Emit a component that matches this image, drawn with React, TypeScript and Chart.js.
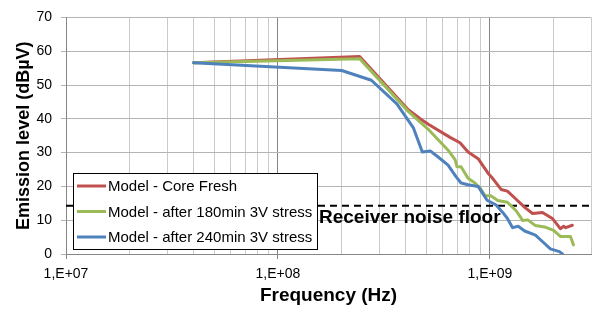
import React, { useEffect, useRef } from 'react';
import { Chart, registerables } from 'chart.js';

Chart.register(...registerables);

const FONT = "'Liberation Sans', Arial, sans-serif";

const seriesNames = [
  'Model - Core Fresh',
  'Model - after 180min 3V stress',
  'Model - after 240min 3V stress',
];
const seriesColors = ['#C0504D', '#9BBB59', '#4F81BD'];

const freshFreq = [4.0e7, 2.43e8, 4.12e8, 4.74e8, 5.12e8, 6.49e8, 7.23e8, 7.89e8, 8.8e8, 9.8e8, 1.03e9, 1.13e9, 1.21e9, 1.33e9, 1.46e9, 1.59e9, 1.77e9, 1.98e9, 2.15e9, 2.23e9, 2.28e9, 2.45e9];
const freshLevel = [56.6, 58.4, 42.7, 39.8, 38.4, 34.5, 32.9, 30.2, 28.2, 23.9, 22.4, 19.1, 18.6, 16.2, 13.8, 12.0, 12.3, 10.4, 7.5, 8.2, 7.8, 8.5];

const stress180Freq = [4.0e7, 2.43e8, 4.12e8, 5.12e8, 6.35e8, 6.85e8, 7.0e8, 7.31e8, 7.89e8, 8.5e8, 8.98e8, 9.5e8, 1.01e9, 1.09e9, 1.21e9, 1.33e9, 1.43e9, 1.51e9, 1.64e9, 1.81e9, 2.0e9, 2.15e9, 2.4e9, 2.48e9];
const stress180Level = [56.6, 57.8, 42.2, 36.9, 30.7, 27.9, 25.8, 25.8, 22.4, 21.0, 19.6, 17.2, 17.2, 15.8, 15.3, 12.8, 9.9, 10.1, 8.4, 8.0, 7.0, 5.2, 5.2, 2.7];

const stress240Freq = [4.0e7, 2.0e8, 2.76e8, 3.64e8, 4.35e8, 4.8e8, 5.23e8, 5.7e8, 6.35e8, 6.92e8, 7.31e8, 7.89e8, 8.8e8, 9.7e8, 1.07e9, 1.15e9, 1.21e9, 1.28e9, 1.36e9, 1.46e9, 1.64e9, 1.79e9, 1.93e9, 2.13e9, 2.2e9];
const stress240Level = [56.6, 54.3, 51.4, 44.4, 37.4, 30.2, 30.5, 28.7, 26.3, 22.9, 21.0, 20.5, 20.0, 15.9, 14.5, 12.3, 10.5, 7.8, 8.2, 6.8, 5.6, 3.4, 1.5, 0.7, 0];

const noiseFloorLevel = 14.3;
const noiseFloorLabel = 'Receiver noise floor';

const xMin = 1e7;
const xMax = 3e9;
const xMajorTicks = [1e7, 1e8, 1e9];
const xMajorLabels = ['1,E+07', '1,E+08', '1,E+09'];
const xMinorTicks = [2e7, 3e7, 4e7, 5e7, 6e7, 7e7, 8e7, 9e7, 2e8, 3e8, 4e8, 5e8, 6e8, 7e8, 8e8, 9e8, 2e9, 3e9];
const yMin = 0;
const yMax = 70;
const yStep = 10;

const xTitle = 'Frequency (Hz)';
const yTitle = 'Emission level (dBµV)';

const toPoints = (xs: number[], ys: number[]) => xs.map((x, i) => ({ x, y: ys[i] }));

const overlayPlugin = {
  id: 'overlay',
  afterDatasetsDraw(chart: any) {
    const { ctx, chartArea, scales } = chart;
    const y = scales.y;
    ctx.save();
    ctx.font = `bold 19px ${FONT}`;
    ctx.fillStyle = '#000';
    ctx.textAlign = 'left';
    ctx.textBaseline = 'alphabetic';
    ctx.fillText(noiseFloorLabel, chartArea.left + 253, y.getPixelForValue(noiseFloorLevel) + 17);

    const lx = chartArea.left + 7;
    const ly = chartArea.bottom - 81;
    const lw = 244;
    const lh = 76;
    ctx.fillStyle = '#fff';
    ctx.fillRect(lx, ly, lw, lh);
    ctx.strokeStyle = '#000';
    ctx.lineWidth = 1;
    ctx.strokeRect(lx + 0.5, ly + 0.5, lw, lh);
    const rows = [13, 38.5, 64];
    ctx.font = `15px ${FONT}`;
    ctx.textBaseline = 'middle';
    seriesNames.forEach((name, i) => {
      const ry = ly + rows[i];
      ctx.strokeStyle = seriesColors[i];
      ctx.lineWidth = 3;
      ctx.beginPath();
      ctx.moveTo(lx + 4, ry);
      ctx.lineTo(lx + 33, ry);
      ctx.stroke();
      ctx.fillStyle = '#000';
      ctx.fillText(name, lx + 35, ry + 1);
    });
    ctx.restore();
  },
};

export default function App() {
  const ref = useRef<HTMLCanvasElement>(null);

  useEffect(() => {
    if (!ref.current) return;
    const lineDs = (label: string, xs: number[], ys: number[], color: string, order: number) => ({
      label,
      data: toPoints(xs, ys),
      borderColor: color,
      backgroundColor: color,
      borderWidth: 3,
      pointRadius: 0,
      tension: 0,
      borderJoinStyle: 'round' as const,
      borderCapStyle: 'round' as const,
      order,
    });
    const chart = new Chart(ref.current, {
      type: 'line',
      data: {
        datasets: [
          {
            label: 'noise',
            data: [{ x: xMin, y: noiseFloorLevel }, { x: xMax, y: noiseFloorLevel }],
            borderColor: '#000',
            borderWidth: 2,
            borderDash: [7, 5],
            pointRadius: 0,
            order: 4,
          },
          lineDs(seriesNames[0], freshFreq, freshLevel, seriesColors[0], 3),
          lineDs(seriesNames[1], stress180Freq, stress180Level, seriesColors[1], 2),
          lineDs(seriesNames[2], stress240Freq, stress240Level, seriesColors[2], 1),
        ],
      },
      options: {
        animation: false,
        responsive: false,
        devicePixelRatio: 1,
        layout: { padding: { left: 0, top: 11, right: 5, bottom: 0 } },
        plugins: { legend: { display: false }, tooltip: { enabled: false } },
        scales: {
          x: {
            type: 'logarithmic',
            min: xMin,
            max: xMax,
            afterBuildTicks: (scale: any) => {
              const vals = [...xMajorTicks, ...xMinorTicks].sort((a, b) => a - b);
              scale.ticks = vals.map((value) => ({ value, major: xMajorTicks.includes(value) }));
            },
            afterFit: (scale: any) => {
              scale.height = 57;
            },
            ticks: {
              autoSkip: false,
              maxRotation: 0,
              minRotation: 0,
              padding: 7,
              color: '#000',
              font: { family: FONT, size: 14 },
              callback: (value: any) => {
                const idx = xMajorTicks.indexOf(Number(value));
                return idx >= 0 ? xMajorLabels[idx] : '';
              },
            },
            grid: {
              color: (c: any) => (c.tick && xMajorTicks.includes(c.tick.value) ? '#858585' : '#cacaca'),
              tickColor: (c: any) => (c.tick && xMajorTicks.includes(c.tick.value) ? '#868686' : 'rgba(0,0,0,0)'),
              tickLength: 5,
              lineWidth: 1,
            },
            border: { display: true, color: '#868686', width: 1 },
            title: {
              display: true,
              text: xTitle,
              color: '#000',
              font: { family: FONT, size: 19, weight: 'bold' },
              padding: { top: 0, bottom: 4 },
            },
          },
          y: {
            type: 'linear',
            min: yMin,
            max: yMax,
            afterFit: (scale: any) => {
              scale.width = 66;
            },
            ticks: {
              stepSize: yStep,
              padding: 9,
              color: '#000',
              font: { family: FONT, size: 14 },
            },
            grid: {
              color: '#b4b4b4',
              tickColor: '#b4b4b4',
              tickLength: 5,
              lineWidth: 1,
            },
            border: { display: true, color: '#868686', width: 1 },
            title: {
              display: true,
              text: yTitle,
              color: '#000',
              font: { family: FONT, size: 18, weight: 'bold' },
              padding: { top: 13, bottom: 0 },
            },
          },
        },
      },
      plugins: [overlayPlugin],
    } as any);
    return () => chart.destroy();
  }, []);

  return (
    <div style={{ position: 'fixed', left: 0, top: 0, width: 598, height: 311, background: '#fff' }}>
      <canvas ref={ref} width={598} height={311} style={{ width: 598, height: 311, display: 'block' }} />
    </div>
  );
}
